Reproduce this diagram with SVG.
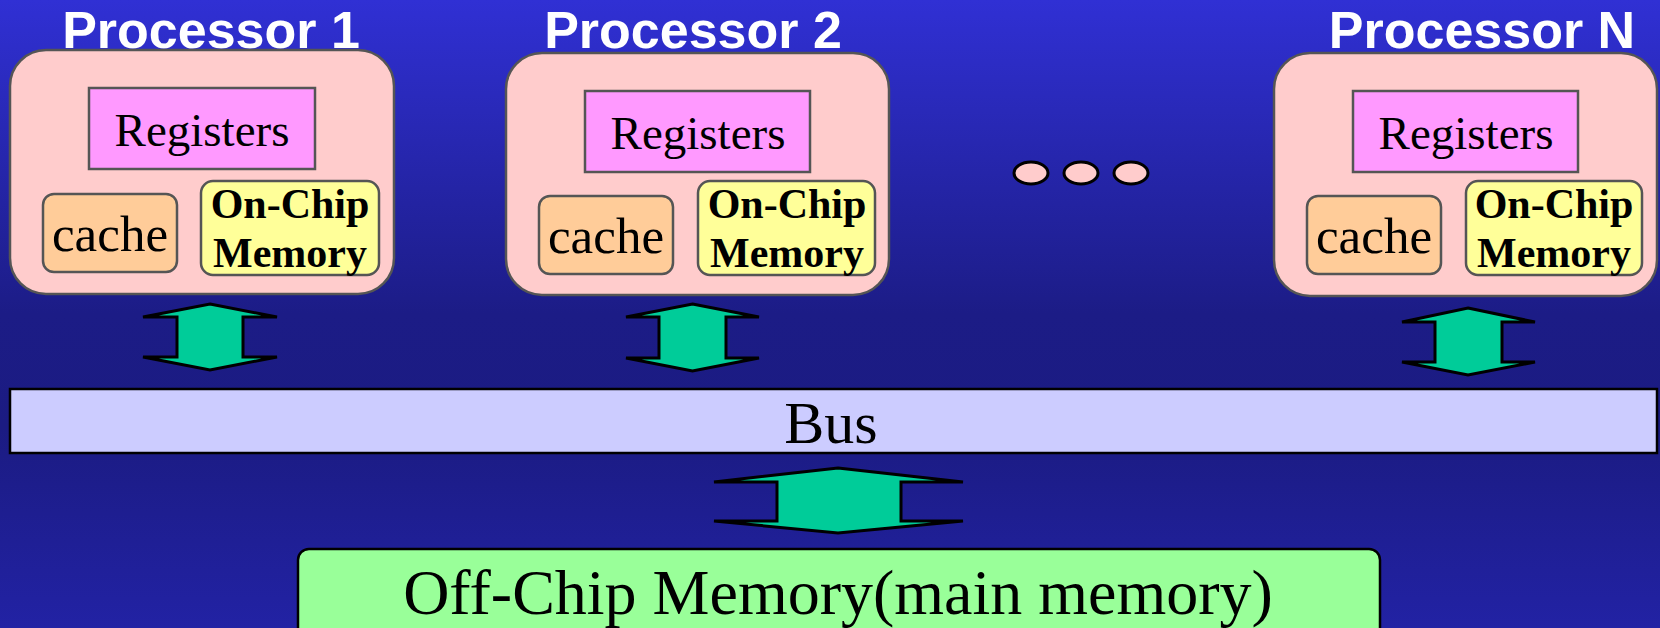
<svg xmlns="http://www.w3.org/2000/svg" width="1660" height="628" viewBox="0 0 1660 628">
  <defs>
    <linearGradient id="bg" x1="0" y1="0" x2="0" y2="1">
      <stop offset="0" stop-color="#3030D4"/>
      <stop offset="0.5" stop-color="#1C1C86"/>
      <stop offset="0.68" stop-color="#1B1B82"/>
      <stop offset="1" stop-color="#2222A4"/>
    </linearGradient>
    <style>
      .title { font-family: "Liberation Sans", Arial, sans-serif; font-weight: bold; font-size: 52px; fill: #FFFFFF; text-anchor: middle; }
      .proc { fill: #FFCCCC; stroke: #555555; stroke-width: 2.5; }
      .reg { fill: #FF99FF; stroke: #555555; stroke-width: 2.5; }
      .cache { fill: #FFCC99; stroke: #555555; stroke-width: 2.5; }
      .ocm { fill: #FFFF99; stroke: #555555; stroke-width: 2.5; }
      .serif { font-family: "Liberation Serif", "Times New Roman", serif; fill: #000000; text-anchor: middle; }
      .lbl47 { font-size: 47px; }
      .lbl51 { font-size: 51px; }
      .bold42 { font-size: 42px; font-weight: bold; }
      .arrow { fill: #00CC99; stroke: #000000; stroke-width: 3; stroke-linejoin: miter; }
      .dot { fill: #FFCCCC; stroke: #000000; stroke-width: 3; }
    </style>
  </defs>

  <rect x="0" y="0" width="1660" height="628" fill="url(#bg)"/>

  <!-- Processor 1 -->
  <g id="processor-1">
    <text class="title" x="211" y="48">Processor 1</text>
    <rect class="proc" x="10" y="50" width="384" height="244" rx="36" ry="36"/>
    <rect class="reg" x="89" y="88" width="226" height="81"/>
    <text class="serif lbl47" x="202" y="146">Registers</text>
    <rect class="cache" x="43" y="194" width="134" height="78" rx="11" ry="11"/>
    <text class="serif lbl51" x="110" y="251">cache</text>
    <rect class="ocm" x="201" y="181" width="178" height="94" rx="12" ry="12"/>
    <text class="serif bold42" x="290" y="218">On-Chip</text>
    <text class="serif bold42" x="290" y="267">Memory</text>
  </g>

  <!-- Processor 2 -->
  <g id="processor-2">
    <text class="title" x="693" y="48">Processor 2</text>
    <rect class="proc" x="506" y="53" width="383" height="242" rx="36" ry="36"/>
    <rect class="reg" x="585" y="91" width="225" height="81"/>
    <text class="serif lbl47" x="698" y="149">Registers</text>
    <rect class="cache" x="539" y="196" width="134" height="78" rx="11" ry="11"/>
    <text class="serif lbl51" x="606" y="253">cache</text>
    <rect class="ocm" x="698" y="181" width="177" height="94" rx="12" ry="12"/>
    <text class="serif bold42" x="787" y="218">On-Chip</text>
    <text class="serif bold42" x="787" y="267">Memory</text>
  </g>

  <!-- Ellipsis between processors -->
  <g id="ellipsis">
    <ellipse class="dot" cx="1031" cy="173" rx="17" ry="11"/>
    <ellipse class="dot" cx="1081" cy="173" rx="17" ry="11"/>
    <ellipse class="dot" cx="1131" cy="173" rx="17" ry="11"/>
  </g>

  <!-- Processor N -->
  <g id="processor-n">
    <text class="title" x="1482" y="48">Processor N</text>
    <rect class="proc" x="1274" y="53" width="383" height="243" rx="36" ry="36"/>
    <rect class="reg" x="1353" y="91" width="225" height="81"/>
    <text class="serif lbl47" x="1466" y="149">Registers</text>
    <rect class="cache" x="1307" y="196" width="134" height="78" rx="11" ry="11"/>
    <text class="serif lbl51" x="1374" y="253">cache</text>
    <rect class="ocm" x="1466" y="181" width="176" height="94" rx="12" ry="12"/>
    <text class="serif bold42" x="1554" y="218">On-Chip</text>
    <text class="serif bold42" x="1554" y="267">Memory</text>
  </g>

  <!-- Shared bus -->
  <g id="bus">
    <rect x="10" y="389" width="1647" height="64" fill="#CCCCFF" stroke="#000000" stroke-width="2.5"/>
    <text class="serif" x="831" y="443" font-size="60">Bus</text>
  </g>

  <!-- Main memory -->
  <g id="off-chip-memory">
    <rect x="298" y="549" width="1082" height="100" rx="11" ry="11" fill="#99FF99" stroke="#000000" stroke-width="2.5"/>
    <text class="serif" x="838" y="614" font-size="64">Off-Chip Memory(main memory)</text>
  </g>

  <!-- Two-way arrows between processors, bus and memory -->
  <g id="connectors">
    <path class="arrow" d="M210,304 L277,317 L243,317 L243,357 L277,357 L210,370 L143,357 L177,357 L177,317 L143,317 Z"/>
    <path class="arrow" d="M692.5,304 L759,317 L726,317 L726,358 L759,358 L692.5,371 L626,358 L659,358 L659,317 L626,317 Z"/>
    <path class="arrow" d="M1468,308 L1535,322 L1502,322 L1502,362 L1535,362 L1468,375 L1402,362 L1435,362 L1435,322 L1402,322 Z"/>
    <path class="arrow" d="M838,468 L963,482 L901,482 L901,521 L963,521 L838,533 L714,521 L777,521 L777,482 L714,482 Z"/>
  </g>
</svg>
